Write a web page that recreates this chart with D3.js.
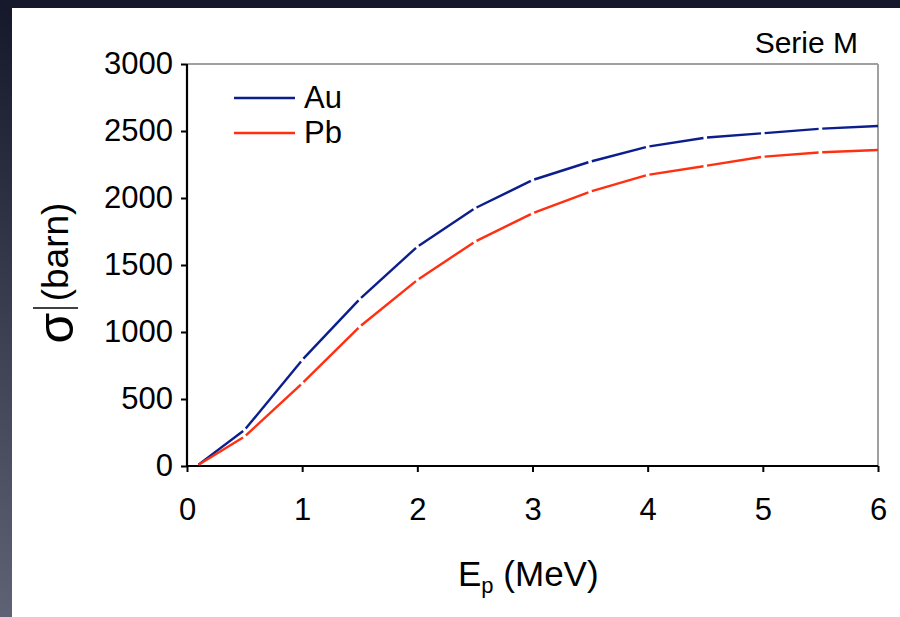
<!DOCTYPE html>
<html><head><meta charset="utf-8">
<script src="https://cdn.jsdelivr.net/npm/d3@7/dist/d3.min.js"></script>
<style>html,body{margin:0;padding:0;background:#fff;}svg{display:block;}</style>
</head><body>
<script>
const energies = [0.1, 0.5, 1, 1.5, 2, 2.5, 3, 3.5, 4, 4.5, 5, 5.5, 6];
const auValues = [10, 269, 791, 1246, 1637, 1923, 2134, 2271, 2383, 2450, 2483, 2517, 2537];
const pbValues = [10, 219, 617, 1040, 1388, 1674, 1886, 2047, 2172, 2239, 2308, 2341, 2358];
const seriesNames = ["Au", "Pb"];
const seriesColors = ["#0b1e8c", "#ff3012"];
const xTicks = [0, 1, 2, 3, 4, 5, 6];
const yTicks = [0, 500, 1000, 1500, 2000, 2500, 3000];

const W = 900, H = 617;
const FONT = "'Liberation Sans', Arial, Helvetica, sans-serif";
const svg = d3.select("body").append("svg").attr("width", W).attr("height", H);

const defs = svg.append("defs");
const grad = defs.append("linearGradient").attr("id", "bg").attr("x1", 0).attr("y1", 0).attr("x2", 0).attr("y2", 1);
grad.append("stop").attr("offset", "0%").attr("stop-color", "#15172b");
grad.append("stop").attr("offset", "100%").attr("stop-color", "#5f6274");
svg.append("rect").attr("width", W).attr("height", H).attr("fill", "url(#bg)");
svg.append("rect").attr("x", 12).attr("y", 8).attr("width", W - 12).attr("height", H - 8).attr("fill", "#fff");

const x = d3.scaleLinear().domain([0, 6]).range([187, 878]);
const y = d3.scaleLinear().domain([0, 3000]).range([466, 64]);

// frame (top/right grey)
svg.append("line").attr("x1", x(0)).attr("x2", x(6)).attr("y1", y(3000)).attr("y2", y(3000))
  .attr("stroke", "#a0a0a0").attr("stroke-width", 2);
svg.append("line").attr("x1", x(6)).attr("x2", x(6)).attr("y1", y(3000)).attr("y2", y(0))
  .attr("stroke", "#a0a0a0").attr("stroke-width", 2);

// axes
const xAxis = d3.axisBottom(x).tickValues(xTicks).tickSize(6).tickPadding(26).tickFormat(d3.format("d"));
const yAxis = d3.axisLeft(y).tickValues(yTicks).tickSize(6).tickPadding(8).tickFormat(d3.format("d"));
const gx = svg.append("g").attr("transform", `translate(0,${y(0)})`).call(xAxis);
const gy = svg.append("g").attr("transform", `translate(${x(0)},0)`).call(yAxis);
[gx, gy].forEach(g => {
  g.select(".domain").attr("stroke", "#000").attr("stroke-width", 2.2);
  g.selectAll(".tick line").attr("stroke", "#000").attr("stroke-width", 2);
  g.selectAll(".tick text").attr("fill", "#000").style("font-family", FONT).style("font-size", "31px");
});
gy.select(".domain").attr("d", `M0,${y(0)}V${y(3000)}`);
gx.select(".domain").attr("d", `M${x(0)},0H${x(6)}`);

// series with small gaps at data points
const series = [auValues, pbValues];
const gap = 1.8;
series.forEach((vals, si) => {
  const pts = energies.map((e, i) => [x(e), y(vals[i])]);
  const g = svg.append("g");
  for (let i = 0; i < pts.length - 1; i++) {
    const [x0, y0] = pts[i], [x1, y1] = pts[i + 1];
    const len = Math.hypot(x1 - x0, y1 - y0);
    const ux = (x1 - x0) / len, uy = (y1 - y0) / len;
    const s = i === 0 ? 0 : gap;
    const e = i === pts.length - 2 ? 0 : gap;
    g.append("line")
      .attr("x1", x0 + ux * s).attr("y1", y0 + uy * s)
      .attr("x2", x1 - ux * e).attr("y2", y1 - uy * e)
      .attr("stroke", seriesColors[si]).attr("stroke-width", 2.4);
  }
});

// legend
const legY = [98, 133];
seriesNames.forEach((n, i) => {
  svg.append("line").attr("x1", 234).attr("x2", 295).attr("y1", legY[i]).attr("y2", legY[i])
    .attr("stroke", seriesColors[i]).attr("stroke-width", 2.4);
  svg.append("text").attr("x", 304).attr("y", legY[i] + 10).text(n)
    .style("font-family", FONT).style("font-size", "31px").attr("fill", "#000");
});

// Serie M
svg.append("text").attr("x", 858).attr("y", 53).attr("text-anchor", "end").text("Serie M")
  .style("font-family", FONT).style("font-size", "30px").attr("fill", "#000");

// x-axis title
const xt = svg.append("text").attr("x", 458).attr("y", 586)
  .style("font-family", FONT).style("font-size", "35px").attr("fill", "#000");
xt.append("tspan").text("E");
xt.append("tspan").attr("dy", 7).style("font-size", "22px").text("p");
xt.append("tspan").attr("dy", -7).text(" (MeV)");

// y-axis title
svg.append("text").attr("transform", "translate(73,328) rotate(-90)").attr("text-anchor", "middle")
  .style("font-family", FONT).style("font-size", "50px").attr("fill", "#000").text("σ");
svg.append("line").attr("x1", 33).attr("x2", 78).attr("y1", 308).attr("y2", 308)
  .attr("stroke", "#000").attr("stroke-width", 1.5);
svg.append("text").attr("transform", "translate(68,252) rotate(-90)").attr("text-anchor", "middle")
  .style("font-family", FONT).style("font-size", "37px").attr("fill", "#000").text("(barn)");
</script>
</body></html>
